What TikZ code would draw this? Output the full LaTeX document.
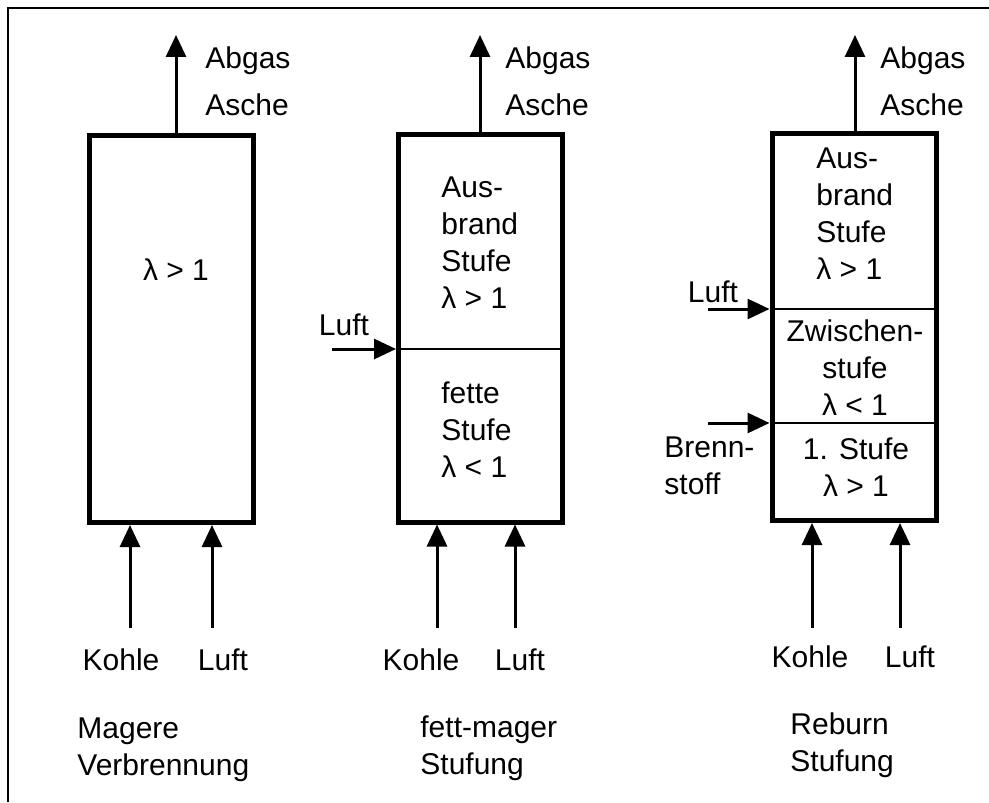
\documentclass[tikz,border=0pt]{standalone}
\usepackage{fontspec}
\setmainfont{Liberation Sans}
\usetikzlibrary{positioning, arrows.meta, calc}

\begin{document}
\begin{tikzpicture}[
			x=0.5pt, y=-0.5pt,
			font=\fontsize{15}{18.5}\selectfont,
			>={Triangle[length=11pt, width=10pt]},
			% Define styles for the blocks
			stage/.style={
				draw=black,
				line width=2.5pt,
				minimum width=82pt,
				minimum height=193.5pt,
				inner sep=0pt
			},
			flow/.style={
				->, line width=1.5pt
			},
			divider/.style={
				line width=1.3pt
			},
			gas_text/.style={
				font=\fontsize{15}{23.5}\selectfont,
				align=left, anchor=west, inner sep=0pt
			},
			in_text/.style={
				align=center, inner sep=0pt
			},
			title_text/.style={
				align=left, anchor=west, inner sep=0pt
			}
			]
			
			% Frame (top and left only)
			\useasboundingbox (0,0) rectangle (989,802);
			\draw[line width=1pt] (989,8) -- (8,8) -- (8,802);
			
			% --- 1. MAGERE VERBRENNUNG ---
			\node[stage] (box1) at (171,329) {};
			\node[in_text] (lam1) at (176,270) {λ > 1};
			\coordinate (out1) at (176,35);
			\draw[flow] (out1 |- box1.north) -- (out1);
			\node[gas_text] (gas1) at (205,81) {Abgas\\Asche};
			
			\coordinate (kohle1) at (130,628);
			\coordinate (luft1) at (212,628);
			\draw[flow] (kohle1) -- (kohle1 |- box1.south);
			\draw[flow] (luft1) -- (luft1 |- box1.south);
			\node[in_text] (kohle1_text) at (121,660) {Kohle};
			\node[in_text] (luft1_text) at (223,660) {Luft};
			\node[title_text] (title1) at (77,750) {Magere\\Verbrennung};
			
			% --- 2. FETT-MAGER STUFUNG ---
			\node[stage] (box2) at (480.5,328.5) {};
			\coordinate (out2) at (480,35);
			\draw[flow] (out2 |- box2.north) -- (out2);
			\node[gas_text] (gas2) at (505,81) {Abgas\\Asche};
			
			% Air staging
			\coordinate (luft2a) at (332,349);
			\draw[divider] (luft2a -| box2.west) -- (luft2a -| box2.east);
			\draw[flow] (luft2a) -- (luft2a -| box2.west);
			\node[in_text] (luft2a_text) at (344,325) {Luft};
			
			\node[in_text, anchor=west, align=left] (aus2) at (441,243) {Aus-\\brand\\Stufe\\λ > 1};
			\node[in_text, anchor=west, align=left] (fett2) at (441,430) {fette\\Stufe\\λ < 1};
			
			\coordinate (kohle2) at (437,628);
			\coordinate (luft2) at (515,628);
			\draw[flow] (kohle2) -- (kohle2 |- box2.south);
			\draw[flow] (luft2) -- (luft2 |- box2.south);
			\node[in_text] (kohle2_text) at (421,660) {Kohle};
			\node[in_text] (luft2_text) at (520,660) {Luft};
			\node[title_text] (title2) at (420,748) {fett-mager\\Stufung};
			
			% --- 3. REBURN STUFUNG ---
			\node[stage] (box3) at (854,327) {};
			\coordinate (out3) at (855,35);
			\draw[flow] (out3 |- box3.north) -- (out3);
			\node[gas_text] (gas3) at (880,81) {Abgas\\Asche};
			
			% Air and fuel staging
			\coordinate (luft3a) at (708,309);
			\coordinate (brenn3) at (708,423);
			\draw[divider] (luft3a -| box3.west) -- (luft3a -| box3.east);
			\draw[divider] (brenn3 -| box3.west) -- (brenn3 -| box3.east);
			\draw[flow] (luft3a) -- (luft3a -| box3.west);
			\draw[flow] (brenn3) -- (brenn3 -| box3.west);
			\node[in_text] (luft3a_text) at (713,292) {Luft};
			\node[title_text] (brenn3_text) at (664,466) {Brenn-\\stoff};
			
			\node[in_text, anchor=west, align=left] (aus3) at (816,214) {Aus-\\brand\\Stufe\\λ > 1};
			\node[in_text] (zw3) at (855,368) {Zwischen-\\stufe\\λ < 1};
			\node[in_text] (st3) at (856,467) {1. Stufe\\λ > 1};
			
			\coordinate (kohle3) at (812,628);
			\coordinate (luft3) at (900,628);
			\draw[flow] (kohle3) -- (kohle3 |- box3.south);
			\draw[flow] (luft3) -- (luft3 |- box3.south);
			\node[in_text] (kohle3_text) at (810,657) {Kohle};
			\node[in_text] (luft3_text) at (910,657) {Luft};
			\node[title_text] (title3) at (790,745) {Reburn\\Stufung};
			
		\end{tikzpicture}
\end{document}
